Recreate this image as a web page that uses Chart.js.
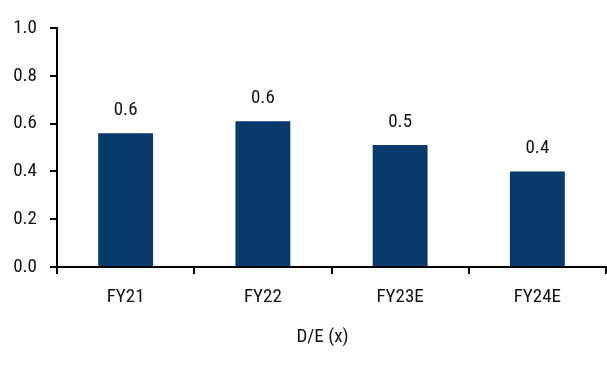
<!DOCTYPE html>
<html>
<head>
<meta charset="utf-8">
<script src="https://cdn.jsdelivr.net/npm/chart.js@4/dist/chart.umd.min.js"></script>
<style>
  html, body { margin: 0; padding: 0; background: #ffffff; }
  #wrap { width: 607px; height: 372px; position: relative; }
</style>
</head>
<body>
<div id="wrap"><canvas id="c"></canvas></div>
<script>
// Debt-to-equity by fiscal year
const categories = ['FY21', 'FY22', 'FY23E', 'FY24E'];
const deRatio = [0.56, 0.61, 0.51, 0.40];
const yTicks = [0.0, 0.2, 0.4, 0.6, 0.8, 1.0];
const axisTitle = 'D/E (x)';

const FONT = "'Liberation Sans Narrow', 'Roboto Condensed', 'Arial Narrow', sans-serif";
const FONT_SIZE = 19;
const BAR = '#083a6b';

// Value labels above each bar (one decimal) and the caption under the axis
const annotations = {
  id: 'annotations',
  afterDatasetsDraw(chart) {
    const ctx = chart.ctx;
    const meta = chart.getDatasetMeta(0);
    ctx.save();
    ctx.font = FONT_SIZE + 'px ' + FONT;
    ctx.fillStyle = '#111';
    ctx.textAlign = 'center';
    ctx.textBaseline = 'middle';
    meta.data.forEach((bar, i) => {
      ctx.fillText(deRatio[i].toFixed(1), bar.x, bar.y - 23);
    });
    const xs = chart.scales.x;
    ctx.fillText(axisTitle, (xs.left + xs.right) / 2 - 9, xs.top + 70);
    ctx.restore();
  }
};

new Chart(document.getElementById('c'), {
  type: 'bar',
  data: {
    labels: categories,
    datasets: [{
      data: deRatio,
      backgroundColor: BAR,
      borderWidth: 0,
      categoryPercentage: 1.0,
      barPercentage: 0.4
    }]
  },
  options: {
    responsive: true,
    maintainAspectRatio: false,
    animation: false,
    layout: { padding: { top: 28, right: 1, bottom: 0, left: 0 } },
    plugins: {
      legend: { display: false },
      tooltip: { enabled: false }
    },
    scales: {
      x: {
        grid: {
          display: true,
          offset: true,
          drawOnChartArea: false,
          drawTicks: true,
          tickLength: 7,
          color: '#000',
          lineWidth: 2
        },
        border: { display: true, color: '#000', width: 2 },
        ticks: {
          color: '#111',
          padding: 12,
          font: { family: FONT, size: FONT_SIZE }
        },
        afterFit(scale) { scale.height = 105; }
      },
      y: {
        min: 0,
        max: 1,
        afterBuildTicks(scale) { scale.ticks = yTicks.map(v => ({ value: v })); },
        grid: {
          display: true,
          drawOnChartArea: false,
          drawTicks: true,
          tickLength: 7,
          color: '#000',
          lineWidth: 2
        },
        border: { display: true, color: '#000', width: 2 },
        ticks: {
          color: '#111',
          padding: 13,
          font: { family: FONT, size: FONT_SIZE },
          callback: v => Number(v).toFixed(1)
        },
        afterFit(scale) { scale.width = 57; }
      }
    }
  },
  plugins: [annotations]
});
</script>
</body>
</html>
